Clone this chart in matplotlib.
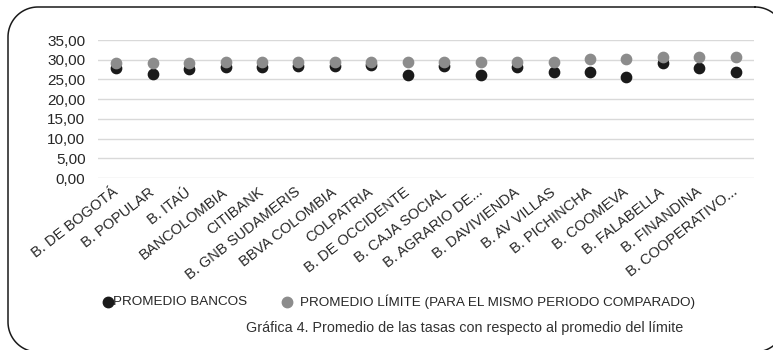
import numpy as np
import matplotlib.pyplot as plt
import matplotlib.transforms as mtransforms

plt.rcParams['font.family'] = ['Liberation Sans', 'DejaVu Sans']

bancos = ['B. DE BOGOTÁ', 'B. POPULAR', 'B. ITAÚ', 'BANCOLOMBIA', 'CITIBANK',
          'B. GNB SUDAMERIS', 'BBVA COLOMBIA', 'COLPATRIA', 'B. DE OCCIDENTE',
          'B. CAJA SOCIAL', 'B. AGRARIO DE...', 'B. DAVIVIENDA', 'B. AV VILLAS',
          'B. PICHINCHA', 'B. COOMEVA', 'B. FALABELLA', 'B. FINANDINA',
          'B. COOPERATIVO...']
promedio_bancos = [27.8, 26.3, 27.6, 28.1, 28.1, 28.5, 28.5, 28.7, 26.0,
                   28.5, 26.0, 28.2, 27.0, 27.0, 25.6, 29.1, 28.0, 27.0]
promedio_limite = [29.2, 29.2, 29.2, 29.3, 29.3, 29.3, 29.3, 29.4, 29.3,
                   29.3, 29.3, 29.3, 29.3, 30.3, 30.3, 30.6, 30.7, 30.6]
yticks = [0, 5, 10, 15, 20, 25, 30, 35]

W, H = 773, 350
fig = plt.figure(figsize=(W / 100, H / 100), dpi=100)

# background axes in pixel units for the rounded frame
bg = fig.add_axes([0, 0, 1, 1])
bg.set_xlim(0, W)
bg.set_ylim(H, 0)
bg.axis('off')

def rounded_frame(x0, y0, x1, y1, r):
    pts = []
    corners = [(x1 - r, y0 + r, -90, 0), (x1 - r, y1 - r, 0, 90),
               (x0 + r, y1 - r, 90, 180), (x0 + r, y0 + r, 180, 270)]
    for cx, cy, a0, a1 in corners:
        t = np.radians(np.linspace(a0, a1, 30))
        pts += list(zip(cx + r * np.cos(t), cy + r * np.sin(t)))
    pts.append(pts[0])
    return np.array(pts)

fr = rounded_frame(8, 7, 785, 352, 30)
bg.plot(fr[:, 0], fr[:, 1], color='#1a1a1a', linewidth=1.1, clip_on=False)

ax = fig.add_axes([98 / W, 1 - 178 / H, (754 - 98) / W, (178 - 40) / H])
x = np.arange(len(bancos))
ax.scatter(x, promedio_bancos, s=55, color='#1a1a1a', zorder=3)
ax.scatter(x, promedio_limite, s=55, color='#8c8c8c', zorder=4)

ax.set_ylim(0, 35)
ax.set_xlim(-0.5, len(bancos) - 0.5)
ax.set_yticks(yticks)
ax.yaxis.set_major_formatter(plt.FuncFormatter(lambda v, p: ('%.2f' % v).replace('.', ',')))
ax.grid(axis='y', color='#d9d9d9', linewidth=1)
ax.set_axisbelow(True)
for s in ax.spines.values():
    s.set_visible(False)
ax.tick_params(length=0)
ax.tick_params(axis='y', labelsize=11, colors='#262626', pad=9)
ax.set_xticks(x)
ax.set_xticklabels(bancos, rotation=38, ha='right', rotation_mode='anchor',
                   fontsize=10.5, color='#262626')
ax.tick_params(axis='x', pad=5)
shift = mtransforms.ScaledTranslation(-4 / 100, 0, fig.dpi_scale_trans)
for lbl in ax.get_xticklabels():
    lbl.set_transform(lbl.get_transform() + shift)

# legend
ly = 302
bg.plot([108], [ly], marker='o', markersize=7.5, color='#1a1a1a')
bg.text(113, ly, 'PROMEDIO BANCOS', fontsize=9.7, va='center', color='#262626')
bg.plot([287], [ly], marker='o', markersize=7.5, color='#8c8c8c')
bg.text(300, ly, 'PROMEDIO LÍMITE (PARA EL MISMO PERIODO COMPARADO)',
        fontsize=9.7, va='center', color='#262626')

bg.text(465, 328,
        'Gráfica 4. Promedio de las tasas con respecto al promedio del límite',
        fontsize=10.4, ha='center', va='center', color='#333333')

fig.savefig('out.png', dpi=100)
